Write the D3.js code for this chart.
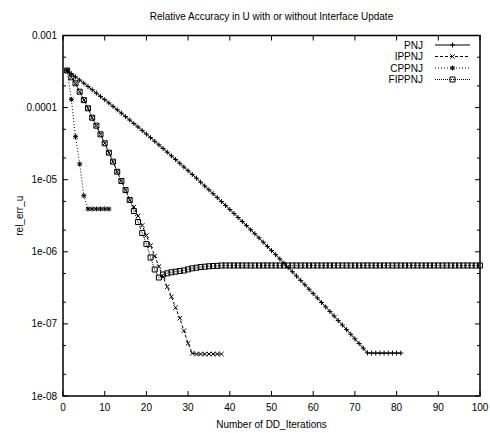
<!DOCTYPE html>
<html lang="en">
<head>
  <meta charset="UTF-8" />
  <script src="https://d3js.org/d3.v7.min.js"></script>
  <style>
    body { margin: 0; background: #fff; }
    svg text { font-family: "Liberation Sans", Arial, sans-serif; font-size: 10px; fill: #000; }
  </style>
</head>
<body>
  <svg id="chart" width="490" height="433"></svg>
  <script>
    // values (rel_err_u per DD iteration)
    const pnjValues = [3.27e-4, 2.96e-4, 2.67e-4, 2.41e-4, 2.18e-4, 1.96e-4, 1.77e-4, 1.59e-4, 1.43e-4, 1.29e-4,
      1.16e-4, 1.04e-4, 9.33e-5, 8.37e-5, 7.50e-5, 6.72e-5, 6.01e-5, 5.38e-5, 4.80e-5, 4.29e-5,
      3.83e-5, 3.41e-5, 3.04e-5, 2.71e-5, 2.41e-5, 2.14e-5, 1.91e-5, 1.69e-5, 1.50e-5, 1.33e-5,
      1.18e-5, 1.05e-5, 9.25e-6, 8.18e-6, 7.23e-6, 6.39e-6, 5.64e-6, 4.97e-6, 4.38e-6, 3.86e-6,
      3.40e-6, 2.99e-6, 2.63e-6, 2.31e-6, 2.02e-6, 1.78e-6, 1.56e-6, 1.36e-6, 1.19e-6, 1.04e-6,
      9.12e-7, 7.96e-7, 6.95e-7, 6.07e-7, 5.29e-7, 4.61e-7, 4.01e-7, 3.49e-7, 3.03e-7, 2.63e-7,
      2.29e-7, 1.98e-7, 1.72e-7, 1.49e-7, 1.29e-7, 1.11e-7, 9.64e-8, 8.33e-8, 7.19e-8, 6.20e-8,
      5.35e-8, 4.61e-8, 3.96e-8, 3.94e-8, 3.94e-8, 3.94e-8, 3.94e-8, 3.94e-8, 3.94e-8, 3.94e-8, 3.94e-8];

    const ippnjValues = [3.27e-4, 2.63e-4, 2.17e-4, 1.66e-4, 1.27e-4, 9.78e-5, 7.24e-5, 5.61e-5, 4.26e-5, 3.20e-5,
      2.37e-5, 1.78e-5, 1.29e-5, 9.59e-6, 7.19e-6, 5.23e-6, 4.18e-6, 3.14e-6, 2.32e-6, 1.68e-6,
      1.22e-6, 8.75e-7, 6.25e-7, 4.47e-7, 3.28e-7, 2.38e-7, 1.68e-7, 1.20e-7, 8.05e-8, 5.38e-8,
      3.91e-8, 3.82e-8, 3.82e-8, 3.82e-8, 3.82e-8, 3.82e-8, 3.82e-8, 3.82e-8];

    const cppnjValues = [3.27e-4, 1.30e-4, 3.95e-5, 1.65e-5, 6.0e-6, 3.93e-6, 3.93e-6, 3.93e-6, 3.93e-6, 3.93e-6, 3.93e-6];

    const fippnjValues = [3.27e-4, 2.63e-4, 2.17e-4, 1.66e-4, 1.27e-4, 9.78e-5, 7.24e-5, 5.61e-5, 4.26e-5, 3.20e-5,
      2.37e-5, 1.78e-5, 1.29e-5, 9.59e-6, 7.19e-6, 5.23e-6, 3.68e-6, 2.59e-6, 1.82e-6, 1.28e-6,
      8.34e-7, 5.68e-7, 4.40e-7, 4.84e-7, 5.03e-7, 5.20e-7, 5.30e-7, 5.42e-7, 5.51e-7, 5.71e-7,
      5.90e-7, 6.02e-7, 6.15e-7, 6.21e-7, 6.30e-7, 6.35e-7, 6.38e-7,
      6.46e-7, 6.46e-7, 6.46e-7, 6.46e-7, 6.46e-7, 6.46e-7, 6.46e-7, 6.46e-7, 6.46e-7, 6.46e-7,
      6.46e-7, 6.46e-7, 6.46e-7, 6.46e-7, 6.46e-7, 6.46e-7, 6.46e-7, 6.46e-7, 6.46e-7, 6.46e-7,
      6.46e-7, 6.46e-7, 6.46e-7, 6.46e-7, 6.46e-7, 6.46e-7, 6.46e-7, 6.46e-7, 6.46e-7, 6.46e-7,
      6.46e-7, 6.46e-7, 6.46e-7, 6.46e-7, 6.46e-7, 6.46e-7, 6.46e-7, 6.46e-7, 6.46e-7, 6.46e-7,
      6.46e-7, 6.46e-7, 6.46e-7, 6.46e-7, 6.46e-7, 6.46e-7, 6.46e-7, 6.46e-7, 6.46e-7, 6.46e-7,
      6.46e-7, 6.46e-7, 6.46e-7, 6.46e-7, 6.46e-7, 6.46e-7, 6.46e-7, 6.46e-7, 6.46e-7, 6.46e-7,
      6.46e-7, 6.46e-7, 6.46e-7];

    const seriesNames = ["PNJ", "IPPNJ", "CPPNJ", "FIPPNJ"];
    const xTicks = [0, 10, 20, 30, 40, 50, 60, 70, 80, 90, 100];
    const yTicks = [1e-8, 1e-7, 1e-6, 1e-5, 1e-4, 1e-3];
    const yTickLabels = ["1e-08", "1e-07", "1e-06", "1e-05", "0.0001", "0.001"];

    const svg = d3.select("#chart");
    const margin = { top: 35.5, right: 10, bottom: 37, left: 63 };
    const width = +svg.attr("width");
    const height = +svg.attr("height");
    const chartWidth = width - margin.left - margin.right;
    const chartHeight = height - margin.top - margin.bottom;

    const xScale = d3.scaleLinear().domain([0, 100]).range([margin.left, margin.left + chartWidth]);
    const yScale = d3.scaleLog().domain([1e-8, 1e-3]).range([margin.top + chartHeight, margin.top]);

    const toPoints = vals => vals.map((v, i) => ({ x: i + 1, y: v }));
    const series = [
      { name: seriesNames[0], data: toPoints(pnjValues), dash: null, marker: "plus" },
      { name: seriesNames[1], data: toPoints(ippnjValues), dash: "3,2", marker: "cross" },
      { name: seriesNames[2], data: toPoints(cppnjValues), dash: "1,2", marker: "star" },
      { name: seriesNames[3], data: toPoints(fippnjValues), dash: "1,1", marker: "square" }
    ];

    const markerPath = {
      plus: "M-2.5,0H2.5M0,-2.5V2.5",
      cross: "M-2.2,-2.2L2.2,2.2M-2.2,2.2L2.2,-2.2",
      star: "M-2.5,0H2.5M0,-2.5V2.5M-2,-2L2,2M-2,2L2,-2",
      square: "M-2.5,-2.5H2.5V2.5H-2.5Z"
    };

    // minor ticks at 2 and 5 of every decade
    const minorY = [];
    yTicks.slice(0, -1).forEach(t => { minorY.push(t * 2, t * 5); });

    const frame = svg.append("g").attr("class", "frame");
    const x0 = margin.left, x1 = margin.left + chartWidth;
    const y0 = margin.top + chartHeight, y1 = margin.top;

    xTicks.forEach(t => {
      frame.append("line").attr("x1", xScale(t)).attr("x2", xScale(t))
        .attr("y1", y0).attr("y2", y0 - 5).attr("stroke", "#000");
      frame.append("line").attr("x1", xScale(t)).attr("x2", xScale(t))
        .attr("y1", y1).attr("y2", y1 + 5).attr("stroke", "#000");
      svg.append("text").attr("x", xScale(t)).attr("y", y0 + 15)
        .attr("text-anchor", "middle").text(t);
    });

    yTicks.forEach((t, i) => {
      frame.append("line").attr("x1", x0).attr("x2", x0 + 5)
        .attr("y1", yScale(t)).attr("y2", yScale(t)).attr("stroke", "#000");
      frame.append("line").attr("x1", x1).attr("x2", x1 - 5)
        .attr("y1", yScale(t)).attr("y2", yScale(t)).attr("stroke", "#000");
      svg.append("text").attr("x", x0 - 6).attr("y", yScale(t) + 3.5)
        .attr("text-anchor", "end").text(yTickLabels[i]);
    });

    minorY.forEach(t => {
      frame.append("line").attr("x1", x0).attr("x2", x0 + 3)
        .attr("y1", yScale(t)).attr("y2", yScale(t)).attr("stroke", "#000");
      frame.append("line").attr("x1", x1).attr("x2", x1 - 3)
        .attr("y1", yScale(t)).attr("y2", yScale(t)).attr("stroke", "#000");
    });

    const line = d3.line().x(d => xScale(d.x)).y(d => yScale(d.y));
    const plot = svg.append("g").attr("class", "plot");

    series.forEach(s => {
      plot.append("path").datum(s.data)
        .attr("d", line)
        .attr("fill", "none")
        .attr("stroke", "#000")
        .attr("stroke-width", 1)
        .attr("stroke-dasharray", s.dash);
      plot.selectAll(null).data(s.data).join("path")
        .attr("transform", d => `translate(${xScale(d.x)},${yScale(d.y)})`)
        .attr("d", markerPath[s.marker])
        .attr("fill", "none")
        .attr("stroke", "#000")
        .attr("stroke-width", 1);
    });

    frame.append("rect")
      .attr("x", x0).attr("y", y1)
      .attr("width", chartWidth).attr("height", chartHeight)
      .attr("fill", "none").attr("stroke", "#000").attr("stroke-width", 1.5);
    frame.raise();

    // legend
    const legend = svg.append("g").attr("class", "legend");
    series.forEach((s, i) => {
      const ly = 45 + i * 11.5;
      legend.append("text").attr("x", 423).attr("y", ly + 3.5)
        .attr("text-anchor", "end").text(s.name);
      legend.append("line").attr("x1", 435).attr("x2", 470)
        .attr("y1", ly).attr("y2", ly)
        .attr("stroke", "#000").attr("stroke-dasharray", s.dash);
      legend.append("path").attr("transform", `translate(452.5,${ly})`)
        .attr("d", markerPath[s.marker])
        .attr("fill", "none").attr("stroke", "#000");
    });

    svg.append("text").attr("x", (x0 + x1) / 2).attr("y", 20)
      .attr("text-anchor", "middle").text("Relative Accuracy in U with or without Interface Update");
    svg.append("text").attr("x", (x0 + x1) / 2).attr("y", 428)
      .attr("text-anchor", "middle").text("Number of DD_Iterations");
    svg.append("text")
      .attr("transform", `translate(23,${(y0 + y1) / 2}) rotate(-90)`)
      .attr("text-anchor", "middle").text("rel_err_u");
  </script>
</body>
</html>
